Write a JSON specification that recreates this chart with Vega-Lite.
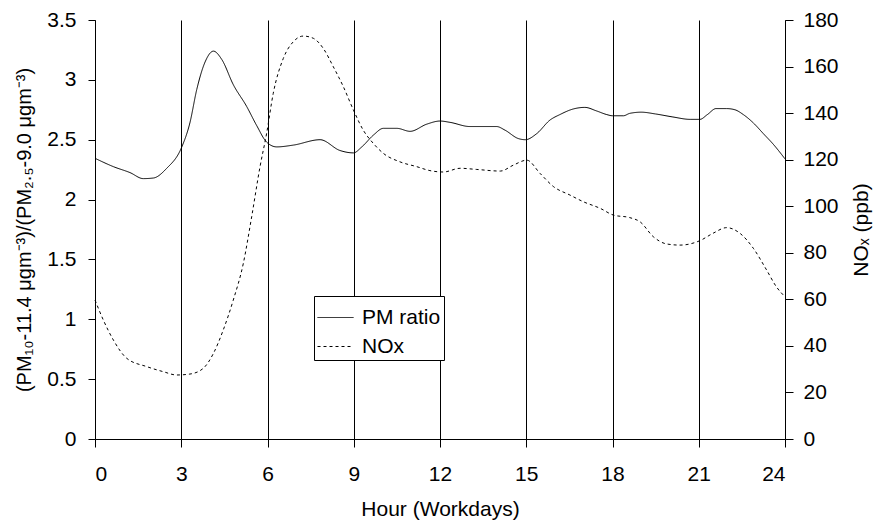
{
  "$schema": "https://vega.github.io/schema/vega-lite/v6.json",
  "autosize": {"type": "none"},
  "width": 690,
  "height": 419,
  "padding": {"left": 95, "top": 20, "right": 93, "bottom": 83},
  "background": "white",
  "config": {
    "font": "Liberation Sans",
    "view": {"stroke": null},
    "axis": {
      "labelFont": "Liberation Sans",
      "titleFont": "Liberation Sans",
      "labelFontSize": 21,
      "titleFontSize": 21,
      "titleFontWeight": "normal",
      "labelColor": "black",
      "titleColor": "black",
      "domainColor": "black",
      "tickColor": "black",
      "tickSize": 8,
      "grid": false
    }
  },
  "datasets": {
    "pm": [
      {"hour": 0, "pm": 2.345, "series": "PM ratio"},
      {"hour": 0.64, "pm": 2.275, "series": "PM ratio"},
      {"hour": 1.22, "pm": 2.225, "series": "PM ratio"},
      {"hour": 1.68, "pm": 2.175, "series": "PM ratio"},
      {"hour": 2.03, "pm": 2.18, "series": "PM ratio"},
      {"hour": 2.49, "pm": 2.26, "series": "PM ratio"},
      {"hour": 3.02, "pm": 2.44, "series": "PM ratio"},
      {"hour": 3.3, "pm": 2.64, "series": "PM ratio"},
      {"hour": 3.54, "pm": 2.92, "series": "PM ratio"},
      {"hour": 3.83, "pm": 3.15, "series": "PM ratio"},
      {"hour": 4.12, "pm": 3.24, "series": "PM ratio"},
      {"hour": 4.41, "pm": 3.17, "series": "PM ratio"},
      {"hour": 4.81, "pm": 2.96, "series": "PM ratio"},
      {"hour": 5.27, "pm": 2.78, "series": "PM ratio"},
      {"hour": 5.62, "pm": 2.62, "series": "PM ratio"},
      {"hour": 5.97, "pm": 2.48, "series": "PM ratio"},
      {"hour": 6.32, "pm": 2.44, "series": "PM ratio"},
      {"hour": 6.9, "pm": 2.455, "series": "PM ratio"},
      {"hour": 7.83, "pm": 2.5, "series": "PM ratio"},
      {"hour": 8.52, "pm": 2.41, "series": "PM ratio"},
      {"hour": 8.99, "pm": 2.39, "series": "PM ratio"},
      {"hour": 9.28, "pm": 2.44, "series": "PM ratio"},
      {"hour": 9.69, "pm": 2.54, "series": "PM ratio"},
      {"hour": 10.03, "pm": 2.595, "series": "PM ratio"},
      {"hour": 10.5, "pm": 2.595, "series": "PM ratio"},
      {"hour": 10.96, "pm": 2.57, "series": "PM ratio"},
      {"hour": 11.54, "pm": 2.63, "series": "PM ratio"},
      {"hour": 12.0, "pm": 2.656, "series": "PM ratio"},
      {"hour": 12.35, "pm": 2.645, "series": "PM ratio"},
      {"hour": 13.04, "pm": 2.61, "series": "PM ratio"},
      {"hour": 13.97, "pm": 2.61, "series": "PM ratio"},
      {"hour": 14.26, "pm": 2.58, "series": "PM ratio"},
      {"hour": 14.72, "pm": 2.51, "series": "PM ratio"},
      {"hour": 14.97, "pm": 2.5, "series": "PM ratio"},
      {"hour": 15.36, "pm": 2.55, "series": "PM ratio"},
      {"hour": 15.83, "pm": 2.665, "series": "PM ratio"},
      {"hour": 16.17, "pm": 2.71, "series": "PM ratio"},
      {"hour": 16.64, "pm": 2.757, "series": "PM ratio"},
      {"hour": 17.04, "pm": 2.77, "series": "PM ratio"},
      {"hour": 17.45, "pm": 2.74, "series": "PM ratio"},
      {"hour": 17.8, "pm": 2.71, "series": "PM ratio"},
      {"hour": 18.0, "pm": 2.7, "series": "PM ratio"},
      {"hour": 18.38, "pm": 2.7, "series": "PM ratio"},
      {"hour": 18.6, "pm": 2.72, "series": "PM ratio"},
      {"hour": 19.0, "pm": 2.73, "series": "PM ratio"},
      {"hour": 19.5, "pm": 2.715, "series": "PM ratio"},
      {"hour": 20.1, "pm": 2.69, "series": "PM ratio"},
      {"hour": 20.7, "pm": 2.67, "series": "PM ratio"},
      {"hour": 21.04, "pm": 2.67, "series": "PM ratio"},
      {"hour": 21.3, "pm": 2.71, "series": "PM ratio"},
      {"hour": 21.6, "pm": 2.76, "series": "PM ratio"},
      {"hour": 21.97, "pm": 2.76, "series": "PM ratio"},
      {"hour": 22.26, "pm": 2.75, "series": "PM ratio"},
      {"hour": 22.55, "pm": 2.71, "series": "PM ratio"},
      {"hour": 22.9, "pm": 2.64, "series": "PM ratio"},
      {"hour": 23.25, "pm": 2.55, "series": "PM ratio"},
      {"hour": 23.6, "pm": 2.46, "series": "PM ratio"},
      {"hour": 24, "pm": 2.34, "series": "PM ratio"}
    ],
    "nox": [
      {"hour": 0, "nox": 59.7, "series": "NOx"},
      {"hour": 0.29, "nox": 51.1, "series": "NOx"},
      {"hour": 0.64, "nox": 42.5, "series": "NOx"},
      {"hour": 1.1, "nox": 34.7, "series": "NOx"},
      {"hour": 1.8, "nox": 31.1, "series": "NOx"},
      {"hour": 2.38, "nox": 28.9, "series": "NOx"},
      {"hour": 2.84, "nox": 27.5, "series": "NOx"},
      {"hour": 3.3, "nox": 27.9, "series": "NOx"},
      {"hour": 3.77, "nox": 30.4, "series": "NOx"},
      {"hour": 4.12, "nox": 36.8, "series": "NOx"},
      {"hour": 4.46, "nox": 46.8, "series": "NOx"},
      {"hour": 4.81, "nox": 59.7, "series": "NOx"},
      {"hour": 5.16, "nox": 75.5, "series": "NOx"},
      {"hour": 5.45, "nox": 95.5, "series": "NOx"},
      {"hour": 5.74, "nox": 117, "series": "NOx"},
      {"hour": 5.97, "nox": 131.3, "series": "NOx"},
      {"hour": 6.2, "nox": 148.5, "series": "NOx"},
      {"hour": 6.55, "nox": 163.5, "series": "NOx"},
      {"hour": 6.9, "nox": 170.7, "series": "NOx"},
      {"hour": 7.25, "nox": 173.1, "series": "NOx"},
      {"hour": 7.6, "nox": 172.1, "series": "NOx"},
      {"hour": 7.94, "nox": 167.8, "series": "NOx"},
      {"hour": 8.29, "nox": 159.9, "series": "NOx"},
      {"hour": 8.64, "nox": 151.3, "series": "NOx"},
      {"hour": 8.99, "nox": 141.3, "series": "NOx"},
      {"hour": 9.33, "nox": 132.7, "series": "NOx"},
      {"hour": 9.68, "nox": 127, "series": "NOx"},
      {"hour": 10.03, "nox": 122.7, "series": "NOx"},
      {"hour": 10.6, "nox": 119.1, "series": "NOx"},
      {"hour": 11.19, "nox": 117, "series": "NOx"},
      {"hour": 11.65, "nox": 115.3, "series": "NOx"},
      {"hour": 12.12, "nox": 114.7, "series": "NOx"},
      {"hour": 12.7, "nox": 116.3, "series": "NOx"},
      {"hour": 13.28, "nox": 115.8, "series": "NOx"},
      {"hour": 14.1, "nox": 115.1, "series": "NOx"},
      {"hour": 14.56, "nox": 117.7, "series": "NOx"},
      {"hour": 15.02, "nox": 119.8, "series": "NOx"},
      {"hour": 15.48, "nox": 114.1, "series": "NOx"},
      {"hour": 15.95, "nox": 108.4, "series": "NOx"},
      {"hour": 16.52, "nox": 104.8, "series": "NOx"},
      {"hour": 16.99, "nox": 101.9, "series": "NOx"},
      {"hour": 17.57, "nox": 99.1, "series": "NOx"},
      {"hour": 18.03, "nox": 96.2, "series": "NOx"},
      {"hour": 18.6, "nox": 95.1, "series": "NOx"},
      {"hour": 18.96, "nox": 93.3, "series": "NOx"},
      {"hour": 19.42, "nox": 86.9, "series": "NOx"},
      {"hour": 19.88, "nox": 83.8, "series": "NOx"},
      {"hour": 20.35, "nox": 83.3, "series": "NOx"},
      {"hour": 21.04, "nox": 85.2, "series": "NOx"},
      {"hour": 21.5, "nox": 88.4, "series": "NOx"},
      {"hour": 21.97, "nox": 90.8, "series": "NOx"},
      {"hour": 22.43, "nox": 88.4, "series": "NOx"},
      {"hour": 22.9, "nox": 81.9, "series": "NOx"},
      {"hour": 23.36, "nox": 72.6, "series": "NOx"},
      {"hour": 23.7, "nox": 65.4, "series": "NOx"},
      {"hour": 24, "nox": 61.1, "series": "NOx"}
    ]
  },
  "layer": [
    {
      "data": {"name": "pm"},
      "mark": {"type": "line", "color": "black", "strokeWidth": 1, "interpolate": "monotone"},
      "encoding": {
        "x": {
          "field": "hour", "type": "quantitative",
          "scale": {"domain": [0, 24], "nice": false},
          "axis": {"values": [0, 3, 6, 9, 12, 15, 18, 21, 24], "title": "Hour (Workdays)", "grid": true, "gridColor": "black", "gridOpacity": 1, "gridWidth": 1, "labelPadding": 16, "titlePadding": 14}
        },
        "y": {
          "field": "pm", "type": "quantitative",
          "scale": {"domain": [0, 3.5], "nice": false},
          "axis": {"values": [0, 0.5, 1, 1.5, 2, 2.5, 3, 3.5], "format": "~g", "title": "(PM₁₀-11.4 μgm⁻³)/(PM₂.₅-9.0 μgm⁻³)", "titleFontSize": 20, "titlePadding": 12, "tickSize": 7, "labelPadding": 12}
        },
        "strokeDash": {
          "field": "series", "type": "nominal",
          "scale": {"domain": ["PM ratio", "NOx"], "range": [[1, 0], [3, 3]]},
          "legend": {
            "title": null, "orient": "none", "legendX": 219, "legendY": 276,
            "strokeColor": "black", "fillColor": "white", "padding": 3,
            "symbolType": "stroke", "symbolSize": 1296, "symbolStrokeColor": "black", "symbolStrokeWidth": 1,
            "labelFontSize": 21, "labelFont": "Liberation Sans", "labelColor": "black", "labelOffset": 8, "rowPadding": 0, "cornerRadius": 0
          }
        }
      }
    },
    {
      "data": {"name": "nox"},
      "mark": {"type": "line", "color": "black", "strokeWidth": 1, "interpolate": "monotone"},
      "encoding": {
        "x": {"field": "hour", "type": "quantitative"},
        "y": {
          "field": "nox", "type": "quantitative",
          "scale": {"domain": [0, 180], "nice": false},
          "axis": {"orient": "right", "values": [0, 20, 40, 60, 80, 100, 120, 140, 160, 180], "title": "NOₓ (ppb)", "titleAngle": 270, "titleBaseline": "top", "titlePadding": 12, "labelPadding": 10}
        },
        "strokeDash": {"field": "series", "type": "nominal"}
      }
    }
  ],
  "resolve": {"scale": {"y": "independent"}}
}
